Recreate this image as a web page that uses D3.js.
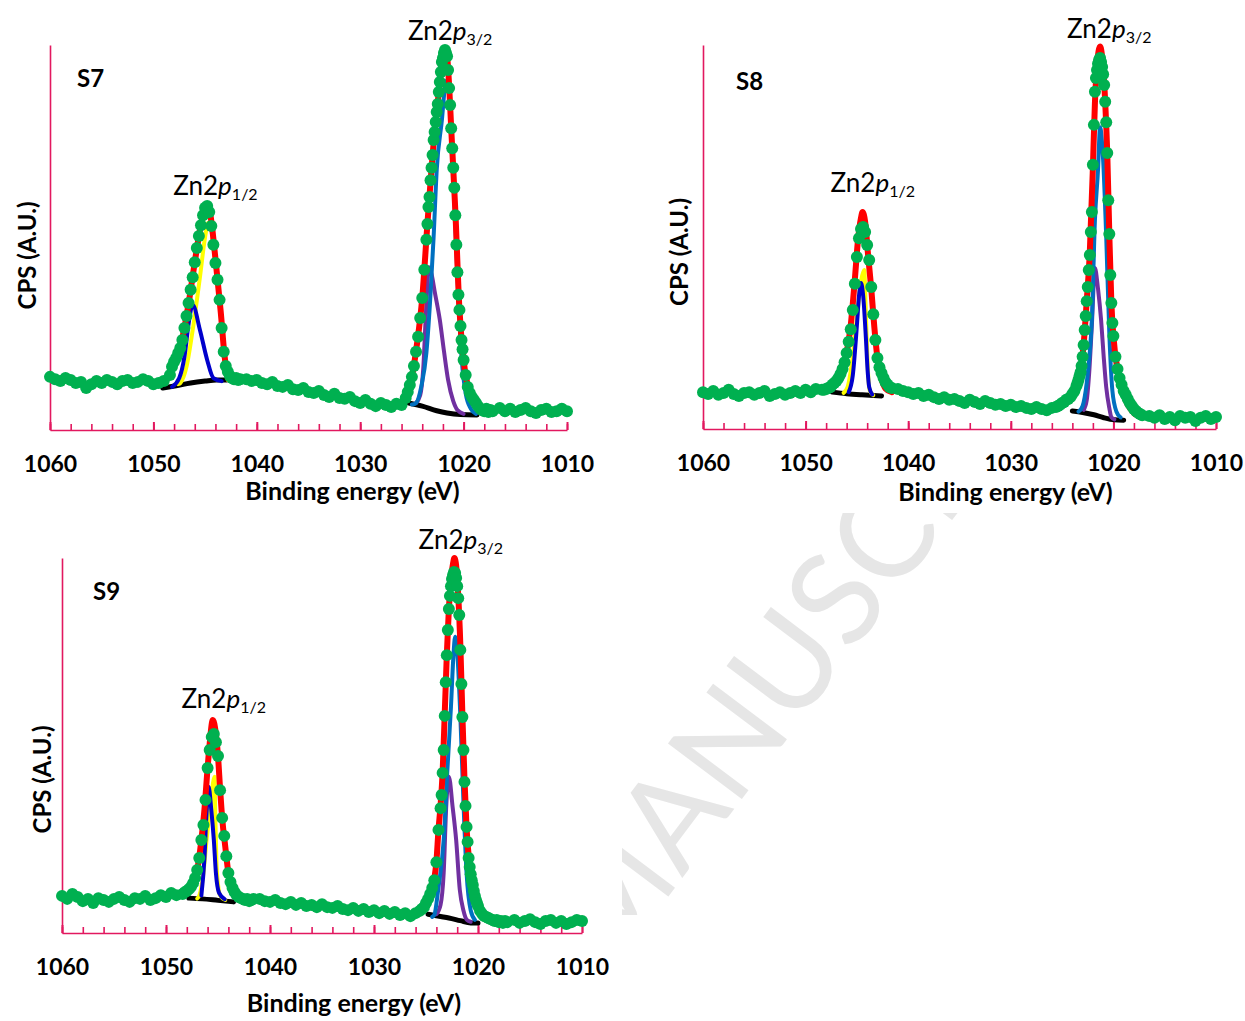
<!DOCTYPE html>
<html>
<head>
<meta charset="utf-8">
<script src="https://cdn.jsdelivr.net/npm/d3@7"></script>
<style>
  body { margin: 0; background: #fff; }
  svg { display: block; }
  text { font-family: Lato, "Open Sans", sans-serif; }
</style>
</head>
<body>
<svg id="canvas" width="1245" height="1021"></svg>
<script>
// binding energy grid of the measured points (eV), same for all three samples
const energies = [
    1060, 1059.5, 1059, 1058.5, 1058, 1057.5, 1057, 1056.5, 1056, 1055.5, 1055, 1054.5,
    1054, 1053.5, 1053, 1052.5, 1052, 1051.5, 1051, 1050.5, 1050, 1049.5, 1049,
    1048.4, 1048.2, 1048, 1047.8, 1047.6, 1047.4, 1047.2, 1047, 1046.8, 1046.6, 1046.4, 1046.2,
    1046, 1045.8, 1045.6, 1045.4, 1045.2, 1045, 1044.8, 1044.6, 1044.4, 1044.2, 1044, 1043.8,
    1043.6, 1043.4, 1043.2, 1043, 1042.8, 1042.6, 1042.4, 1042.2, 1042, 1041.8, 1041.6,
    1041, 1040.5, 1040, 1039.5, 1039, 1038.5, 1038, 1037.5, 1037, 1036.5, 1036, 1035.5, 1035,
    1034.5, 1034, 1033.5, 1033, 1032.5, 1032, 1031.5, 1031, 1030.5, 1030, 1029.5, 1029, 1028.5,
    1028, 1027.5, 1027, 1026.5, 1026,
    1025.6, 1025.4, 1025.2, 1025, 1024.8, 1024.6, 1024.4, 1024.2, 1024, 1023.8, 1023.6,
    1023.5, 1023.4, 1023.3, 1023.2, 1023.1, 1023, 1022.9, 1022.8, 1022.7, 1022.6, 1022.5, 1022.4,
    1022.3, 1022.2, 1022.1, 1022, 1021.9, 1021.8, 1021.7, 1021.6, 1021.5, 1021.4, 1021.3, 1021.2,
    1021.1, 1021, 1020.9, 1020.8, 1020.7, 1020.6, 1020.5, 1020.4, 1020.3, 1020.2, 1020.1, 1020,
    1019.8, 1019.6, 1019.4, 1019.2, 1019, 1018.8, 1018.6, 1018.4, 1018.2, 1018, 1017.8, 1017.6,
    1017.4, 1017.2,
    1016.5, 1016, 1015.5, 1015, 1014.5, 1014, 1013.5, 1013, 1012.5, 1012, 1011.5, 1011, 1010.5, 1010
];

const s7_counts = [
    13.8, 13.2, 12.7, 13.5, 13.0, 12.2, 12.5, 10.9, 11.9, 12.7, 12.2, 13.0, 12.5, 11.9, 12.7, 13.0, 12.2, 12.5, 13.2, 12.7, 11.9, 12.2, 12.7,
    14.3, 16.4, 17.7, 18.7, 20.0, 21.3, 23.4, 26.5, 29.6, 33.0, 36.4, 39.7, 43.6, 47.3, 50.4, 53.2, 55.8, 57.7, 58.2, 56.6, 53.0, 48.1,
    43.4, 39.0, 33.8, 26.5, 20.3, 16.6, 15.1, 14.0, 13.5, 13.2, 13.5, 13.0, 13.2,
    13.2, 12.7, 13.0, 12.2, 11.9, 12.5, 11.4, 11.2, 11.7, 10.6, 10.4, 10.9, 9.9, 9.6, 10.1, 9.1, 8.6, 9.4, 8.3, 8.1, 8.6, 7.5, 7.0, 7.8,
    6.8, 6.2, 7.0, 6.5, 6.0, 6.8, 6.5,
    8.3, 9.9, 11.7, 13.8, 16.6, 20.3, 24.2, 29.1, 34.3, 41.6, 49.4,
    53.5, 57.9, 60.5, 64.9, 68.1, 71.4, 75.3, 77.4, 80.0, 82.6, 84.7, 87.8, 90.4, 93.0, 95.6, 96.6, 97.9, 98.7, 97.9, 97.1, 93.5, 88.8,
    84.4, 78.4, 73.2, 68.1, 62.9, 55.8, 48.1, 41.0, 35.1, 31.2, 27.0, 23.4, 21.0, 18.2,
    14.3, 11.2, 9.6, 8.6, 7.8, 7.0, 6.2, 5.5, 5.2, 4.9, 5.5, 4.7, 5.2, 4.9,
    5.7, 4.9, 5.5, 4.7, 5.2, 5.7, 4.9, 4.4, 5.2, 5.5, 4.7, 4.9, 5.5, 4.9
];
const s8_counts = [
    9.6, 9.1, 9.9, 8.9, 9.4, 10.2, 9.1, 8.6, 9.4, 9.6, 8.9, 9.4, 9.9, 8.6, 9.1, 9.6, 8.9, 9.4, 9.9, 9.4, 10.2, 9.6, 10.4,
    10.2, 10.2, 10.4, 10.7, 10.9, 11.5, 12.0, 12.5, 13.3, 14.3, 15.6, 17.4, 19.8, 22.7, 26.0, 31.0, 37.8, 44.8, 49.7, 52.1, 52.6, 51.3,
    47.9, 44.0, 37.0, 29.9, 23.2, 18.5, 16.1, 14.6, 13.3, 12.2, 11.5, 10.9, 10.7,
    10.4, 9.9, 9.6, 9.1, 9.4, 8.6, 8.9, 8.3, 7.8, 8.3, 7.6, 7.8, 7.3, 6.8, 7.6, 7.0, 6.5, 7.3, 6.8, 6.3, 6.5, 6.0, 6.3, 5.7,
    6.0, 5.5, 5.2, 5.7, 5.2, 4.9, 5.5,
    5.7, 6.0, 6.3, 6.8, 7.0, 7.6, 7.8, 8.3, 9.1, 9.9, 11.2,
    12.0, 12.8, 13.8, 14.8, 16.4, 18.8, 21.9, 25.8, 29.4, 33.3, 37.0, 41.4, 45.3, 51.3, 56.5, 68.8, 79.2, 87.8, 91.4, 93.5, 95.1, 96.1,
    96.6, 95.6, 94.3, 92.4, 89.6, 85.2, 79.9, 71.9, 59.6, 50.8, 40.1, 32.8, 27.6, 24.2,
    18.8, 15.6, 13.3, 11.5, 9.9, 8.9, 7.8, 6.8, 6.0, 5.2, 4.7, 4.2, 3.9, 3.6,
    3.4, 2.9, 3.6, 2.6, 3.1, 2.3, 3.4, 2.9, 3.1, 2.1, 2.9, 3.4, 2.6, 3.1
];
const s9_counts = [
    9.9, 9.1, 10.4, 9.6, 8.5, 9.1, 8.0, 9.3, 8.8, 8.3, 9.1, 9.6, 8.8, 8.3, 9.3, 9.1, 9.9, 8.8, 9.3, 10.1, 9.6, 10.7, 10.1,
    10.4, 10.9, 11.2, 11.7, 12.3, 13.3, 14.7, 16.8, 20.0, 24.8, 28.8, 35.5, 44.0, 48.8, 52.3, 53.1, 50.9, 47.2, 38.1, 30.7, 25.9, 20.5,
    16.0, 13.6, 12.0, 10.9, 10.1, 9.6, 9.3, 9.1, 8.8, 9.1, 8.5, 8.8, 9.1,
    9.1, 8.5, 8.3, 8.8, 8.0, 7.7, 8.3, 7.5, 8.0, 7.2, 7.5, 6.9, 7.7, 6.9, 6.7, 7.2, 6.4, 6.1, 6.7, 5.9, 6.4, 5.6, 6.1, 5.3,
    5.9, 5.1, 5.6, 4.8, 5.3, 4.5, 5.3,
    5.9, 6.4, 6.9, 8.0, 9.1, 10.4, 12.0, 14.1, 18.9, 27.5, 33.3,
    36.8, 42.7, 48.8, 57.9, 66.9, 74.1, 80.8, 86.4, 89.9, 92.5, 94.4, 95.5, 96.3, 96.0, 94.7, 92.5, 89.3, 84.8, 75.5, 66.4, 57.6, 48.8,
    40.3, 33.9, 28.3, 24.3, 20.0, 17.6, 15.7, 14.1, 12.8, 11.2, 9.9, 8.8, 8.0, 7.2,
    5.9, 5.1, 4.5, 4.3, 4.0, 3.7, 3.5, 3.2, 3.5, 2.9, 3.2, 2.7, 3.2, 2.9,
    3.5, 2.7, 3.2, 3.7, 2.9, 2.4, 3.2, 3.5, 2.7, 3.2, 2.4, 2.9, 3.5, 3.2
];

// fitted curves, [binding energy, counts]
const s7_bg12 = [[1049.1, 10.9], [1047.8, 11.5], [1046.4, 12.2], [1045.0, 12.7], [1043.9, 13.0], [1042.9, 13.0]];
const s7_yellow = [[1047.6, 11.9], [1047.4, 12.2], [1046.8, 16.4], [1046.2, 26.0], [1045.5, 39.7], [1045.0, 50.1], [1044.7, 53.8],
    [1044.3, 50.5], [1044.0, 43.5], [1043.5, 30.0], [1043.0, 15.5], [1042.8, 13.0]];
const s7_blue = [[1048.2, 11.2], [1047.5, 13.5], [1047.0, 19.0], [1046.6, 27.5], [1046.2, 32.5], [1045.5, 26.0], [1044.8, 18.2],
    [1044.2, 13.5], [1043.4, 12.7]];
const s7_fit12 = [[1049.0, 12.2], [1048.5, 14.0], [1048.0, 17.5], [1047.5, 20.8], [1047.0, 26.5], [1046.5, 34.5], [1046.0, 43.6],
    [1045.5, 51.8], [1045.0, 57.4], [1044.8, 58.2], [1044.5, 56.0], [1044.0, 44.5], [1043.5, 31.0], [1043.0, 17.0], [1042.5, 14.0],
    [1042.0, 13.3], [1041.5, 13.2]];
const s7_bg32 = [[1025.3, 7.0], [1024.0, 6.2], [1022.6, 5.0], [1021.6, 4.4], [1020.3, 4.0], [1018.7, 3.9]];
const s7_lightblue = [[1025.0, 6.6], [1024.6, 7.0], [1024.1, 11.2], [1023.6, 20.0], [1023.25, 33.0], [1022.9, 50.1], [1022.6, 67.5],
    [1022.1, 80.5], [1021.8, 89.1], [1021.6, 90.9], [1021.4, 87.0], [1021.0, 66.0], [1020.6, 40.0], [1020.2, 19.0], [1019.8, 9.5],
    [1019.3, 5.5], [1018.8, 4.2]];
const s7_purple = [[1024.6, 7.0], [1024.2, 9.0], [1023.9, 16.0], [1023.65, 30.0], [1023.35, 42.3], [1023.1, 40.5], [1022.8, 36.0],
    [1022.3, 28.6], [1021.9, 20.5], [1021.5, 13.0], [1021.0, 7.5], [1020.6, 5.2], [1020.0, 4.2]];
const s7_fit32 = [[1026.0, 6.8], [1025.5, 9.0], [1025.0, 13.8], [1024.5, 22.5], [1024.0, 34.3], [1023.5, 53.5], [1023.0, 71.4],
    [1022.5, 85.2], [1022.0, 96.6], [1021.8, 98.7], [1021.6, 97.1], [1021.4, 89.5], [1021.2, 78.4], [1020.8, 57.0], [1020.4, 31.2],
    [1020.0, 18.2], [1019.5, 10.4], [1019.0, 7.8], [1018.5, 5.5], [1018.0, 4.6]];

const s8_bg12 = [[1047.4, 9.6], [1046.0, 9.2], [1044.5, 8.9], [1042.6, 8.6]];
const s8_yellow = [[1046.3, 9.4], [1045.9, 11.0], [1045.4, 19.0], [1045.0, 29.0], [1044.6, 38.5], [1044.28, 41.4], [1044.15, 32.0],
    [1044.05, 24.0], [1043.9, 14.0], [1043.75, 10.0], [1043.4, 8.8]];
const s8_blue = [[1045.8, 9.6], [1045.4, 14.0], [1045.0, 27.0], [1044.8, 34.5], [1044.6, 38.0], [1044.4, 35.0], [1044.13, 24.0],
    [1043.95, 15.0], [1043.8, 10.9], [1043.5, 9.0]];
const s8_fit12 = [[1048.5, 10.2], [1047.5, 10.9], [1046.8, 13.3], [1046.4, 15.6], [1046.0, 19.8], [1045.6, 27.0], [1045.2, 39.0],
    [1044.9, 49.0], [1044.6, 55.0], [1044.45, 56.5], [1044.2, 54.0], [1043.9, 45.0], [1043.6, 36.5], [1043.3, 26.5], [1043.0, 18.5],
    [1042.6, 13.0], [1042.2, 10.5], [1041.6, 9.6]];
const s8_bg32 = [[1024.0, 4.7], [1023.0, 4.3], [1021.9, 3.7], [1021.0, 3.0], [1019.9, 2.4], [1019.0, 2.3]];
const s8_lightblue = [[1023.4, 4.5], [1023.0, 6.0], [1022.6, 12.0], [1022.3, 20.0], [1022.1, 28.4], [1021.8, 54.4], [1021.5, 67.4],
    [1021.3, 78.6], [1021.0, 70.0], [1020.7, 50.0], [1020.4, 25.0], [1020.1, 10.0], [1019.7, 4.5], [1019.3, 3.0]];
const s8_purple = [[1022.9, 5.0], [1022.6, 7.5], [1022.35, 15.0], [1022.1, 27.0], [1021.8, 41.9], [1021.5, 36.5], [1021.2, 28.4],
    [1020.95, 19.0], [1020.7, 10.9], [1020.4, 5.5], [1020.2, 3.1], [1019.9, 2.5]];
const s8_fit32 = [[1025.4, 5.5], [1024.9, 6.8], [1024.4, 7.6], [1024.0, 8.6], [1023.6, 10.5], [1023.2, 15.1], [1022.9, 22.0],
    [1022.6, 33.3], [1022.3, 46.0], [1022.0, 68.0], [1021.8, 85.0], [1021.6, 94.5], [1021.3, 99.6], [1021.0, 94.0], [1020.8, 85.2],
    [1020.6, 72.0], [1020.4, 51.0], [1020.2, 33.0], [1020.0, 24.2], [1019.6, 15.6], [1019.2, 10.5], [1018.8, 7.5], [1018.4, 5.5],
    [1017.9, 3.9]];

const s9_bg12 = [[1047.8, 9.3], [1046.5, 9.1], [1045.0, 8.7], [1043.5, 8.3]];
const s9_yellow = [[1047.0, 9.2], [1046.78, 10.1], [1046.4, 16.0], [1046.1, 24.8], [1045.74, 33.6], [1045.33, 41.7], [1045.25, 30.0],
    [1045.15, 19.0], [1045.0, 13.0], [1044.8, 10.0], [1044.3, 8.8]];
const s9_blue = [[1046.6, 10.0], [1046.3, 20.0], [1046.1, 32.0], [1045.9, 39.0], [1045.65, 33.0], [1045.4, 24.8], [1045.2, 16.0],
    [1044.9, 10.7], [1044.35, 9.0]];
const s9_fit12 = [[1048.5, 10.0], [1048.0, 11.2], [1047.5, 12.8], [1047.0, 16.8], [1046.6, 24.8], [1046.3, 33.0], [1046.0, 44.0],
    [1045.8, 50.5], [1045.5, 56.8], [1045.2, 53.0], [1045.0, 47.2], [1044.8, 38.5], [1044.6, 30.7], [1044.3, 23.0], [1044.0, 16.0],
    [1043.6, 11.5], [1043.2, 9.6], [1042.6, 9.0]];
const s9_bg32 = [[1024.8, 5.0], [1023.6, 4.4], [1022.8, 4.0], [1021.7, 3.3], [1020.7, 2.7], [1020.0, 2.7]];
const s9_lightblue = [[1024.4, 4.3], [1024.2, 4.8], [1023.83, 11.5], [1023.3, 24.8], [1022.96, 42.7], [1022.6, 60.3], [1022.37, 73.6],
    [1022.2, 79.0], [1022.0, 75.0], [1021.7, 58.0], [1021.4, 35.0], [1021.1, 16.0], [1020.7, 6.0], [1020.3, 3.5]];
const s9_purple = [[1024.0, 5.0], [1023.6, 7.5], [1023.3, 16.0], [1023.05, 34.0], [1022.8, 41.7], [1022.44, 33.6], [1022.1, 24.8],
    [1021.75, 11.5], [1021.4, 6.0], [1021.07, 3.5], [1020.7, 3.0]];
const s9_fit32 = [[1026.2, 5.3], [1025.6, 6.0], [1025.0, 8.0], [1024.6, 10.4], [1024.2, 14.5], [1024.0, 19.0], [1023.8, 27.5],
    [1023.6, 34.0], [1023.4, 43.0], [1023.2, 58.4], [1023.0, 74.1], [1022.8, 86.5], [1022.6, 94.0], [1022.4, 98.5], [1022.27, 100.0],
    [1022.1, 98.0], [1021.9, 90.0], [1021.7, 77.0], [1021.5, 58.0], [1021.3, 41.0], [1021.1, 28.0], [1020.8, 17.9], [1020.5, 12.0],
    [1020.2, 8.5], [1019.8, 5.9], [1019.3, 4.3], [1018.8, 3.6]];

const tick_labels = [1060, 1050, 1040, 1030, 1020, 1010];
const minor_ticks = d3.range(1060, 1009, -2);
const sample_names = ["S7", "S8", "S9"];

const axis_colour = "#e2185f";
const font = "Lato, 'Open Sans', sans-serif";

// layout of the three panels
const panels = [
    { name: sample_names[0], left: 50, right: 567, top: 45, bottom: 430,
      counts: s7_counts, bg12: s7_bg12, bg32: s7_bg32, yellow: s7_yellow, blue: s7_blue,
      lightblue: s7_lightblue, purple: s7_purple, fit12: s7_fit12, fit32: s7_fit32,
      tag: [27, 42], cps: [-14, 18], xlab: [44, 70], p12: [1044.0, 61.0], p32: [1021.3, 101.3] },
    { name: sample_names[1], left: 703, right: 1216, top: 45, bottom: 429,
      counts: s8_counts, bg12: s8_bg12, bg32: s8_bg32, yellow: s8_yellow, blue: s8_blue,
      lightblue: s8_lightblue, purple: s8_purple, fit12: s8_fit12, fit32: s8_fit32,
      tag: [33, 45], cps: [-15, 15], xlab: [46, 72], p12: [1043.45, 61.7], p32: [1020.4, 101.8] },
    { name: sample_names[2], left: 62, right: 582, top: 558, bottom: 933,
      counts: s9_counts, bg12: s9_bg12, bg32: s9_bg32, yellow: s9_yellow, blue: s9_blue,
      lightblue: s9_lightblue, purple: s9_purple, fit12: s9_fit12, fit32: s9_fit32,
      tag: [31, 42], cps: [-11, 34], xlab: [32, 79], p12: [1044.45, 60.0], p32: [1021.65, 102.4] }
];

const svg = d3.select("svg#canvas");

// faint watermark behind everything
svg.append("defs").append("clipPath").attr("id", "wm-clip")
    .append("rect").attr("x", 622).attr("y", 513).attr("width", 623).attr("height", 402);
svg.append("g").attr("clip-path", "url(#wm-clip)")
    .append("text")
    .attr("transform", "translate(610,974) rotate(-53)")
    .attr("font-family", "'Liberation Serif', 'DejaVu Serif', serif")
    .attr("font-size", 129)
    .attr("fill", "#e6e6e6")
    .text("MANUSCRIPT");

panels.forEach(p => {
    const x = d3.scaleLinear().domain([1060, 1010]).range([p.left, p.right]);
    const y = d3.scaleLinear().domain([0, 100]).range([p.bottom, p.top]);
    const g = svg.append("g");

    // minor ticks + axis line
    g.append("g")
        .attr("transform", `translate(0,${p.bottom})`)
        .call(d3.axisBottom(x).tickValues(minor_ticks).tickSizeInner(-6).tickSizeOuter(0).tickFormat(""))
        .call(a => a.selectAll("line, path").attr("stroke", axis_colour).attr("stroke-width", 1.6));

    // major ticks with labels
    g.append("g")
        .attr("transform", `translate(0,${p.bottom})`)
        .call(d3.axisBottom(x).tickValues(tick_labels).tickSizeInner(-8).tickSizeOuter(0).tickPadding(26).tickFormat(d3.format("d")))
        .call(a => {
            a.select(".domain").remove();
            a.selectAll("line").attr("stroke", axis_colour).attr("stroke-width", 2);
            a.selectAll("text").attr("font-family", font).attr("font-size", 23)
                .attr("font-weight", "bold").attr("fill", "#000");
        });

    g.append("g")
        .attr("transform", `translate(${p.left},0)`)
        .call(d3.axisLeft(y).tickValues([]).tickSizeOuter(0))
        .call(a => a.select(".domain").attr("stroke", axis_colour).attr("stroke-width", 1.6));

    const line = d3.line()
        .x(d => x(d[0]))
        .y(d => y(d[1]))
        .curve(d3.curveMonotoneX);

    const curves = [
        [p.bg12, "#000000", 5], [p.bg32, "#000000", 5],
        [p.yellow, "#ffff00", 4], [p.blue, "#0000cc", 4],
        [p.purple, "#7030a0", 4], [p.lightblue, "#0070c0", 4],
        [p.fit12, "#ff0000", 6], [p.fit32, "#ff0000", 6]
    ];
    g.selectAll("path.curve")
        .data(curves)
        .join("path")
        .attr("class", "curve")
        .attr("d", d => line(d[0]))
        .attr("fill", "none")
        .attr("stroke", d => d[1])
        .attr("stroke-width", d => d[2])
        .attr("stroke-linejoin", "round")
        .attr("stroke-linecap", "round");

    g.selectAll("circle")
        .data(d3.zip(energies, p.counts))
        .join("circle")
        .attr("cx", d => x(d[0]))
        .attr("cy", d => y(d[1]))
        .attr("r", 6)
        .attr("fill", "#00b050");

    // texts
    g.append("text")
        .attr("x", p.left + p.tag[0])
        .attr("y", p.top + p.tag[1])
        .attr("font-size", 24).attr("font-weight", "bold")
        .text(p.name);

    g.append("text")
        .attr("transform", `translate(${p.left + p.cps[0]},${(p.top + p.bottom) / 2 + p.cps[1]}) rotate(-90)`)
        .attr("text-anchor", "middle")
        .attr("font-size", 24).attr("font-weight", "bold")
        .text("CPS (A.U.)");

    g.append("text")
        .attr("x", (p.left + p.right) / 2 + p.xlab[0])
        .attr("y", p.bottom + p.xlab[1])
        .attr("text-anchor", "middle")
        .attr("font-size", 25).attr("font-weight", "bold")
        .text("Binding energy (eV)");

    [[p.p12, "1/2"], [p.p32, "3/2"]].forEach(([pos, sub]) => {
        const t = g.append("text")
            .attr("x", x(pos[0]))
            .attr("y", y(pos[1]))
            .attr("text-anchor", "middle")
            .attr("font-size", 26);
        t.append("tspan").text("Zn2");
        t.append("tspan").attr("font-style", "italic").text("p");
        t.append("tspan").attr("font-size", 16).attr("dy", 5).text(sub);
    });
});
</script>
</body>
</html>
